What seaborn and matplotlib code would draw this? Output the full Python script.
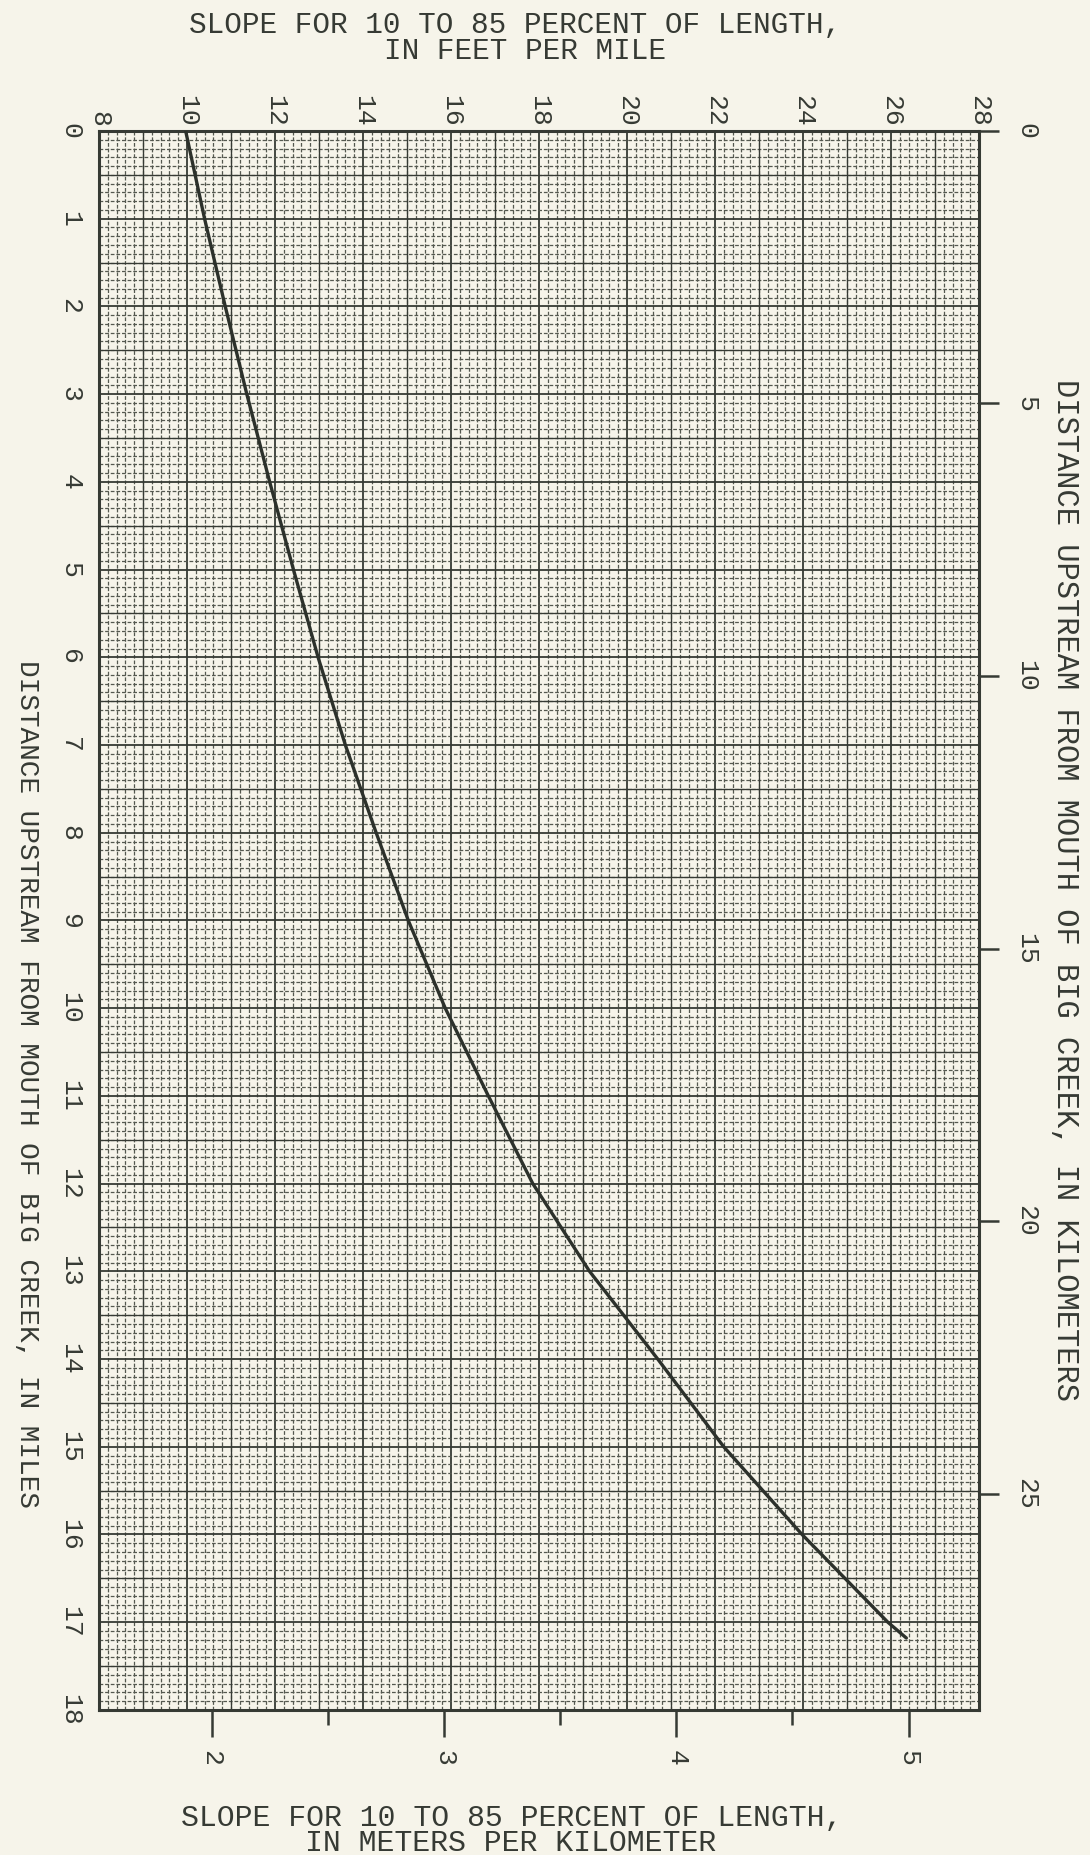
import matplotlib.pyplot as plt
import matplotlib.ticker as mticker
import seaborn as sns
import numpy as np
import pandas as pd

# curve, one point per mile plus the end of the line
dist_mi = [0, 1, 2, 3, 4, 5, 6, 7, 8, 9, 10, 11, 12, 13, 14, 15, 16, 17, 17.18]
slope_ftmi = [9.97, 10.40, 10.87, 11.36, 11.88, 12.42, 12.98, 13.60, 14.30, 15.03,
              15.87, 16.85, 17.86, 19.15, 20.70, 22.20, 23.98, 25.93, 26.35]

slope_ticks = list(range(8, 29, 2))
mile_ticks = list(range(0, 19))
km_ticks = [0, 5, 10, 15, 20, 25]
mkm_major = [2, 3, 4, 5]
mkm_minor = [2.5, 3.5, 4.5]

KM_PER_MI = 1.609344
MKM_PER_FTMI = 0.3048 / 1.609344

paper = '#f6f4ea'
ink = '#363a34'
grid_minor = '#54584f'

sns.set_style("white")
plt.rcParams['font.family'] = ['Liberation Mono', 'DejaVu Sans Mono']
plt.rcParams['text.color'] = ink

fig = plt.figure(figsize=(10.9, 18.55), dpi=100, facecolor=paper)
ax = fig.add_axes([0.0908, 0.0782, 0.8073, 0.8512])
ax.set_facecolor(paper)

df = pd.DataFrame({'slope': slope_ftmi, 'miles': dist_mi})
sns.lineplot(data=df, x='slope', y='miles', sort=False, estimator=None,
             color='#2c312b', lw=2.4, ax=ax, zorder=5)

ax.set_xlim(8, 28)
ax.set_ylim(18, 0)
ax.set_xlabel('')
ax.set_ylabel('')

# graph paper: bold every 2 ft/mi and 1 mile, medium halfway, fine tenths
ax.xaxis.set_major_locator(mticker.FixedLocator(slope_ticks))
ax.xaxis.set_minor_locator(mticker.MultipleLocator(0.2))
ax.yaxis.set_major_locator(mticker.FixedLocator(mile_ticks))
ax.yaxis.set_minor_locator(mticker.MultipleLocator(0.1))
ax.set_axisbelow(True)
ax.grid(which='major', color=ink, lw=1.3)
ax.grid(which='minor', color=grid_minor, lw=0.9, ls=(0, (3, 1.5)))
ax.vlines(np.arange(9, 28, 2), 0, 18, color=ink, lw=0.95, zorder=0.7)
ax.hlines(np.arange(0.5, 18, 1), 8, 28, color=ink, lw=0.95, zorder=0.7)

for s in ax.spines.values():
    s.set_visible(True)
    s.set_color(ink)
    s.set_linewidth(2.2)

ax.xaxis.tick_top()
ax.tick_params(axis='x', which='both', length=0, pad=3, labelsize=19,
               labelrotation=-90, labelcolor=ink)
ax.tick_params(axis='y', which='both', length=0, pad=12, labelsize=19,
               labelrotation=-90, labelcolor=ink)
for t in ax.get_yticklabels():
    t.set_verticalalignment('center')

# kilometers on the right
sec_y = ax.secondary_yaxis('right', functions=(lambda m: m * KM_PER_MI,
                                               lambda k: k / KM_PER_MI))
sec_y.yaxis.set_major_locator(mticker.FixedLocator(km_ticks))
sec_y.tick_params(length=14.5, width=1.8, pad=11, labelsize=19,
                  labelrotation=-90, color=ink, labelcolor=ink)
sec_y.spines['right'].set_visible(False)
for t in sec_y.get_yticklabels():
    t.set_verticalalignment('center')

# meters per kilometer on the bottom
sec_x = ax.secondary_xaxis('bottom', functions=(lambda f: f * MKM_PER_FTMI,
                                                lambda m: m / MKM_PER_FTMI))
sec_x.xaxis.set_major_locator(mticker.FixedLocator(mkm_major))
sec_x.xaxis.set_minor_locator(mticker.FixedLocator(mkm_minor))
sec_x.tick_params(which='major', length=19.5, width=1.8, pad=9, labelsize=19,
                  labelrotation=-90, color=ink, labelcolor=ink)
sec_x.tick_params(which='minor', length=11, width=1.8, color=ink)
sec_x.spines['bottom'].set_visible(False)

W, H = 1090, 1855
fig.text(515 / W, 1 - 25 / H, 'SLOPE FOR 10 TO 85 PERCENT OF LENGTH,',
         ha='center', va='center', fontsize=21.2)
fig.text(525 / W, 1 - 51 / H, 'IN FEET PER MILE',
         ha='center', va='center', fontsize=21.2)
fig.text(512 / W, 1 - 1818 / H, 'SLOPE FOR 10 TO 85 PERCENT OF LENGTH,',
         ha='center', va='center', fontsize=21.5)
fig.text(511 / W, 1 - 1843 / H, 'IN METERS PER KILOMETER',
         ha='center', va='center', fontsize=21.5)
fig.text(27 / W, 1 - 1084 / H, 'DISTANCE UPSTREAM FROM MOUTH OF BIG CREEK, IN MILES',
         ha='center', va='center', rotation=-90, fontsize=20)
fig.text(1065 / W, 1 - 890 / H, 'DISTANCE UPSTREAM FROM MOUTH OF BIG CREEK, IN KILOMETERS',
         ha='center', va='center', rotation=-90, fontsize=22)

fig.savefig('out.png', dpi=100, facecolor=paper)
